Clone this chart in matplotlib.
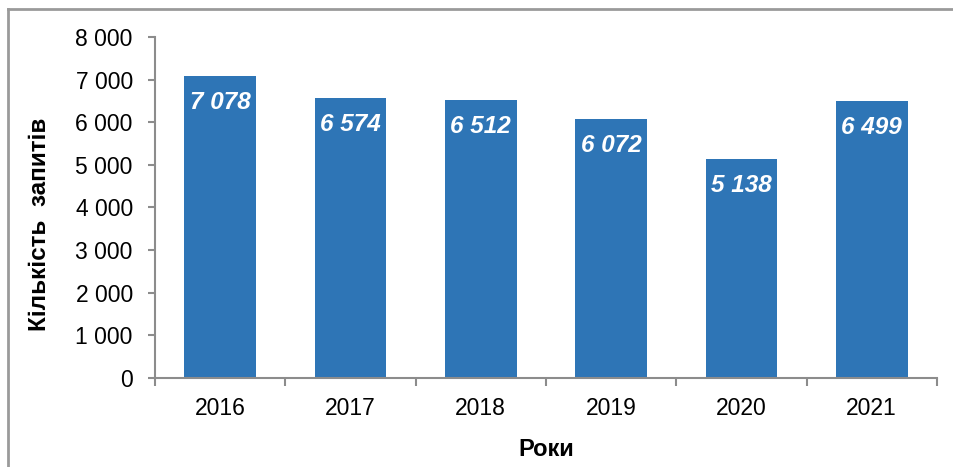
import numpy as np
import matplotlib.pyplot as plt
from matplotlib.lines import Line2D

years = ['2016', '2017', '2018', '2019', '2020', '2021']
requests = [7078, 6574, 6512, 6072, 5138, 6499]
value_labels = ['7 078', '6 574', '6 512', '6 072', '5 138', '6 499']
y_ticks = [0, 1000, 2000, 3000, 4000, 5000, 6000, 7000, 8000]
y_tick_labels = ['0', '1 000', '2 000', '3 000', '4 000', '5 000', '6 000', '7 000', '8 000']

plt.rcParams['font.family'] = ['Liberation Sans', 'DejaVu Sans']
axis_grey = '#8c8c8c'
bar_blue = '#2e75b6'

fig = plt.figure(figsize=(9.54, 4.67), dpi=100)
ax = fig.add_axes([0.1625, 0.1906, 0.8195, 0.7302])

x = np.arange(len(years))
ax.bar(x, requests, width=0.55, color=bar_blue, zorder=2)

for xi, v, lab in zip(x, requests, value_labels):
    ax.annotate(lab, (xi, v), xytext=(0, -19), textcoords='offset points',
                ha='center', va='center', color='white', fontsize=17.5,
                fontweight='bold', fontstyle='italic')

ax.set_xlim(-0.5, len(years) - 0.5)
ax.set_ylim(0, 8000)
ax.set_yticks(y_ticks)
ax.set_yticklabels(y_tick_labels, fontsize=16.5)
ax.set_xticks(x)
ax.set_xticklabels(years, fontsize=16.5)
ax.set_xticks(np.arange(len(years) + 1) - 0.5, minor=True)

ax.tick_params(axis='x', which='major', length=0, pad=14)
ax.tick_params(axis='x', which='minor', length=6, color=axis_grey, width=1.5, direction='out')
ax.tick_params(axis='y', length=5, color=axis_grey, width=1.5, pad=11)

for s in ['top', 'right']:
    ax.spines[s].set_visible(False)
for s in ['left', 'bottom']:
    ax.spines[s].set_color(axis_grey)
    ax.spines[s].set_linewidth(1.5)

ax.set_ylabel('Кількість  запитів', fontsize=17.5, fontweight='bold', labelpad=16)
ax.yaxis.set_label_coords(-0.133, 0.45)
ax.set_xlabel('Роки', fontsize=17, fontweight='bold', labelpad=13)

# outer frame (top and left edges visible in the source)
fig.add_artist(Line2D([8 / 954, 1.0], [1 - 9 / 467, 1 - 9 / 467], transform=fig.transFigure,
                      color='#9a9a9a', linewidth=2))
fig.add_artist(Line2D([8 / 954, 8 / 954], [0.0, 1 - 9 / 467], transform=fig.transFigure,
                      color='#9a9a9a', linewidth=2))

fig.savefig('out.png', dpi=100)
